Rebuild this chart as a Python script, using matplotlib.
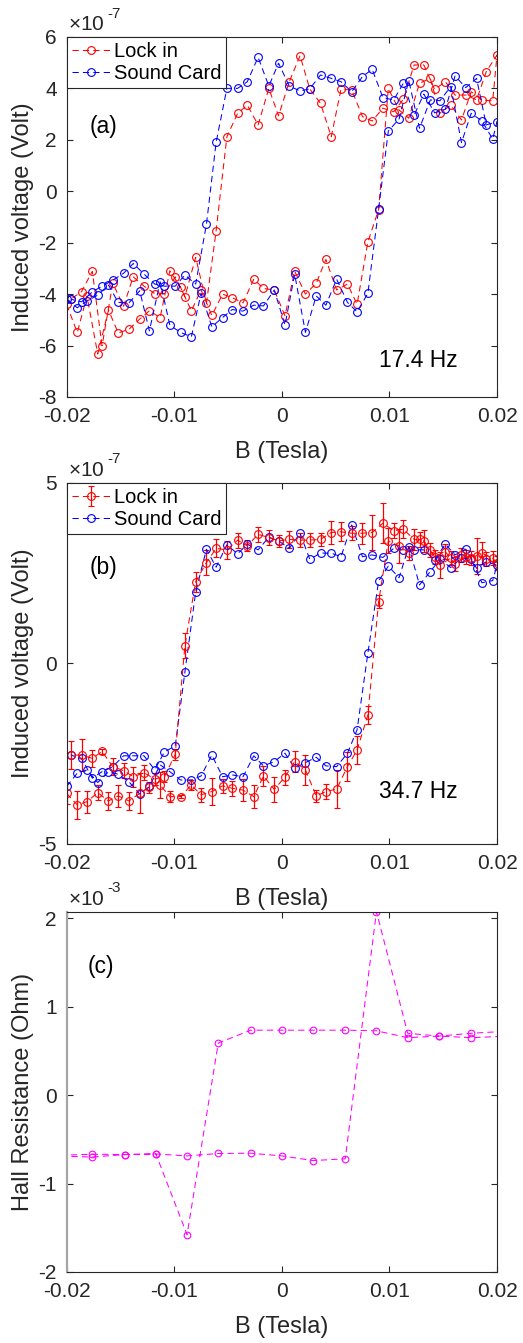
import matplotlib
matplotlib.use("Agg")
import matplotlib.pyplot as plt

plt.rcParams["font.family"] = ["Liberation Sans", "DejaVu Sans"]
plt.rcParams["mathtext.fontset"] = "custom"
plt.rcParams["mathtext.rm"] = "Liberation Sans"
plt.rcParams["axes.unicode_minus"] = False

INK = "#262626"

# field sweep (Tesla): up-sweep, the down-sweep runs back over the same steps
B_UP = [-0.0200, -0.0190, -0.0181, -0.0171, -0.0161, -0.0152, -0.0142, -0.0132,
        -0.0123, -0.0113, -0.0104, -0.0094, -0.0084, -0.0075, -0.0065, -0.0055,
        -0.0046, -0.0036, -0.0026, -0.0017, -0.0007, 0.0003, 0.0012, 0.0022,
        0.0032, 0.0041, 0.0051, 0.0061, 0.0070, 0.0080, 0.0090, 0.0099,
        0.0109, 0.0118, 0.0128, 0.0138, 0.0147, 0.0157, 0.0167, 0.0176,
        0.0186, 0.0196]
B_DOWN = [-b for b in B_UP]

# (a) 17.4 Hz, induced voltage in units of 1e-7 V
lock_a_up = [-4.40, -5.49, -4.08, -6.33, -4.62, -5.51, -5.37, -4.97, -4.65, -4.91,
             -3.09, -3.74, -4.65, -3.84, -4.83, -4.00, -4.14, -4.34, -3.42, -3.78,
             -3.84, -4.84, -3.11, -4.00, -3.58, -2.65, -3.84, -3.61, -4.39, -1.97,
             -0.72, 4.00, 3.16, 2.84, 4.20, 4.39, 3.03, 3.35, 2.77, 3.87, 3.55, 3.51]
lock_a_down = [5.30, 4.65, 3.55, 3.74, 3.74, 4.26, 3.96, 4.91, 4.91, 3.58,
               3.09, 3.23, 2.73, 2.90, 3.94, 3.96, 2.12, 3.42, 3.98, 5.27,
               4.26, 2.93, 4.00, 2.58, 3.35, 3.03, 2.12, -1.54, -4.36, -2.57,
               -4.10, -3.33, -3.98, -3.98, -3.69, -3.33, -4.47, -3.58, -6.01, -3.11,
               -3.90, -4.20]
sound_a_up = [-4.18, -4.53, -4.27, -4.04, -3.65, -4.32, -4.34, -3.87, -5.43, -3.52,
              -5.21, -5.49, -5.66, -3.97, -5.27, -4.91, -4.60, -4.66, -4.43, -4.46,
              -3.84, -5.20, -3.23, -5.49, -4.07, -4.43, -3.42, -4.32, -4.69, -3.97,
              -0.69, 2.34, 2.81, 4.30, 2.45, 3.55, 3.52, 4.07, 1.89, 3.03, 2.73, 2.03]
sound_a_down = [2.70, 2.58, 4.39, 4.03, 4.48, 3.19, 3.05, 3.78, 2.96, 4.20,
                3.55, 3.64, 4.74, 4.46, 3.87, 4.26, 4.39, 4.52, 3.98, 3.90,
                4.09, 4.98, 4.09, 5.21, 4.26, 4.00, 4.00, 1.90, -1.29, -3.61,
                -3.26, -3.69, -3.69, -3.61, -3.22, -2.81, -3.19, -3.46, -3.69, -3.91,
                -4.30, -4.20]

# (b) 34.7 Hz, units of 1e-7 V
lock_b_up = [-3.60, -3.92, -3.83, -3.58, -3.81, -3.67, -3.81, -3.60, -3.43, -3.37,
             -3.69, -3.69, -3.37, -3.64, -3.55, -3.39, -3.46, -3.51, -3.69, -3.12,
             -3.49, -3.15, -2.72, -2.95, -3.67, -3.55, -3.48, -2.86, -2.40, -1.43,
             1.71, 3.39, 3.25, 3.06, 3.43, 3.14, 2.72, 2.91, 3.00, 2.91, 3.05, 2.91]
lock_b_up_err = [0.30, 0.39, 0.30, 0.20, 0.26, 0.31, 0.25, 0.55, 0.15, 0.37,
                 0.16, 0.05, 0.14, 0.19, 0.37, 0.20, 0.20, 0.30, 0.32, 0.28,
                 0.35, 0.21, 0.30, 0.41, 0.16, 0.21, 0.53, 0.41, 0.39, 0.25,
                 0.18, 0.35, 0.48, 0.20, 0.20, 0.20, 0.37, 0.20, 0.20, 0.20, 0.30, 0.20]
lock_b_down = [2.77, 2.88, 2.97, 2.95, 2.75, 3.09, 2.95, 3.39, 3.43, 3.71,
               3.67, 3.88, 3.62, 3.60, 3.60, 3.64, 3.62, 3.43, 3.41, 3.41,
               3.43, 3.39, 3.48, 3.57, 3.25, 3.41, 3.14, 3.18, 2.79, 2.26,
               0.49, -2.52, -3.14, -3.20, -3.03, -3.14, -2.97, -2.86, -2.44, -2.63,
               -2.54, -2.54]
lock_b_down_err = [0.20, 0.20, 0.50, 0.20, 0.20, 0.20, 0.20, 0.30, 0.30, 0.25,
                   0.20, 0.55, 0.48, 0.29, 0.20, 0.26, 0.32, 0.17, 0.19, 0.19,
                   0.23, 0.17, 0.20, 0.20, 0.15, 0.21, 0.25, 0.25, 0.34, 0.28,
                   0.35, 0.15, 0.15, 0.16, 0.21, 0.28, 0.20, 0.23, 0.07, 0.23,
                   0.44, 0.38]
sound_b_up = [-3.41, -3.04, -2.95, -3.30, -3.00, -3.07, -3.28, -3.62, -3.41, -2.81,
              -3.00, -3.23, -3.23, -3.12, -2.54, -3.14, -3.09, -3.14, -2.56, -2.84,
              -2.72, -2.49, -2.90, -2.75, -2.60, -2.84, -2.86, -2.49, -1.84, 0.28,
              2.28, 2.69, 2.37, 3.23, 2.17, 2.54, 2.88, 2.65, 2.92, 2.88, 2.23, 2.29]
sound_b_down = [2.72, 2.81, 2.63, 3.16, 3.00, 3.30, 2.86, 3.14, 3.14, 3.14,
                3.18, 2.93, 3.00, 2.95, 3.83, 2.95, 3.05, 3.05, 2.88, 3.60,
                3.18, 3.39, 3.49, 3.14, 3.30, 3.03, 3.28, 2.66, 3.16, 1.97,
                -0.24, -2.29, -2.45, -2.95, -2.56, -2.56, -2.56, -2.86, -3.00, -3.18,
                -2.63, -2.54]

# (c) Hall resistance, units of 1e-3 Ohm
B_HALL = [-0.0205, -0.0176, -0.0146, -0.0117, -0.0088, -0.0059, -0.0029, 0.0,
          0.0029, 0.0059, 0.0088, 0.0117, 0.0146, 0.0176, 0.0205,
          0.0205, 0.0176, 0.0146, 0.0117, 0.0088, 0.0059, 0.0029, 0.0,
          -0.0029, -0.0059, -0.0088, -0.0117, -0.0146, -0.0176, -0.0205]
hall = [-0.69, -0.70, -0.672, -0.665, -0.687, -0.66, -0.657, -0.687,
        -0.74, -0.72, 2.076, 0.70, 0.668, 0.70, 0.72,
        0.665, 0.65, 0.668, 0.65, 0.728, 0.735, 0.735, 0.735,
        0.735, 0.589, -1.578, -0.665, -0.672, -0.668, -0.68]

B_TICKS = [-0.02, -0.01, 0, 0.01, 0.02]
B_TICKLABELS = ["-0.02", "-0.01", "0", "0.01", "0.02"]

LINE = dict(linestyle=(0, (6, 4)), linewidth=0.75, marker="o", markersize=5.6,
            markerfacecolor="none", markeredgewidth=0.8)


def style_axes(ax, ylim, yticks, ylabel, exponent):
    ax.set_xlim(-0.02, 0.02)
    ax.set_ylim(*ylim)
    ax.set_xticks(B_TICKS)
    ax.set_xticklabels(B_TICKLABELS)
    ax.set_yticks(yticks)
    ax.set_yticklabels([str(t) for t in yticks])
    ax.tick_params(direction="in", top=True, right=True, length=4, width=0.8,
                   labelsize=15, colors=INK, pad=7)
    for s in ax.spines.values():
        s.set_color(INK)
        s.set_linewidth(0.8)
    ax.set_xlabel("B (Tesla)", fontsize=17, color=INK)
    ax.xaxis.set_label_coords(0.5, -0.152)
    ax.xaxis.label.set_va("center")
    ax.set_ylabel(ylabel, fontsize=17, color=INK)
    ax.yaxis.set_label_coords(-0.1, 0.5)
    ax.yaxis.label.set_va("center")
    ax.text(0.003, 1.008, r"$\times$10", transform=ax.transAxes,
            fontsize=15, color=INK, ha="left", va="bottom")
    ax.text(0.095, 1.045, "-%d" % exponent, transform=ax.transAxes,
            fontsize=11, color=INK, ha="left", va="bottom")


def add_legend(ax, handles, labels):
    leg = ax.legend(handles, labels, loc="upper left", borderaxespad=0, fancybox=False,
                    edgecolor=INK, framealpha=1, fontsize=14.5,
                    handlelength=1.9, handletextpad=0.2, borderpad=0.25,
                    labelspacing=0.15)
    leg.get_frame().set_linewidth(0.8)


fig = plt.figure(figsize=(5.23, 13.43), dpi=100)
left, width = 0.1272, 0.8231

# (a)
ax = fig.add_axes([left, 0.7044, width, 0.2681])
h1, = ax.plot(B_UP + B_DOWN, lock_a_up + lock_a_down, color="red", **LINE)
h2, = ax.plot(B_UP + B_DOWN, sound_a_up + sound_a_down, color="blue", **LINE)
style_axes(ax, (-8, 6), [-8, -6, -4, -2, 0, 2, 4, 6], "Induced voltage (Volt)", 7)
add_legend(ax, [h1, h2], ["Lock in", "Sound Card"])
ax.text(0.085, 0.75, "(a)", transform=ax.transAxes, fontsize=16.5, ha="center", va="center")
ax.text(0.8165, 0.10, "17.4 Hz", transform=ax.transAxes, fontsize=16.5, ha="center", va="center")

# (b)
ax = fig.add_axes([left, 0.3716, width, 0.2690])
h1 = ax.errorbar(B_UP + B_DOWN, lock_b_up + lock_b_down, yerr=lock_b_up_err + lock_b_down_err,
                 color="red", ecolor="red", elinewidth=0.9, capsize=2.4, capthick=0.9, **LINE)
h2, = ax.plot(B_UP + B_DOWN, sound_b_up + sound_b_down, color="blue", **LINE)
style_axes(ax, (-5, 5), [-5, 0, 5], "Induced voltage (Volt)", 7)
add_legend(ax, [h1, h2], ["Lock in", "Sound Card"])
ax.text(0.085, 0.764, "(b)", transform=ax.transAxes, fontsize=16.5, ha="center", va="center")
ax.text(0.8165, 0.144, "34.7 Hz", transform=ax.transAxes, fontsize=16.5, ha="center", va="center")

# (c)
ax = fig.add_axes([left, 0.0529, width, 0.2683])
hall_line = dict(LINE, markersize=4.8)
ax.plot(B_HALL, hall, color="magenta", **hall_line)
style_axes(ax, (-2, max(hall)), [-2, -1, 0, 1, 2], "Hall Resistance (Ohm)", 3)
ax.spines["left"].set_color("0.65")
ax.spines["left"].set_linewidth(1.6)
ax.text(0.08, 0.849, "(c)", transform=ax.transAxes, fontsize=16.5, ha="center", va="center")

fig.savefig("out.png", dpi=100)
